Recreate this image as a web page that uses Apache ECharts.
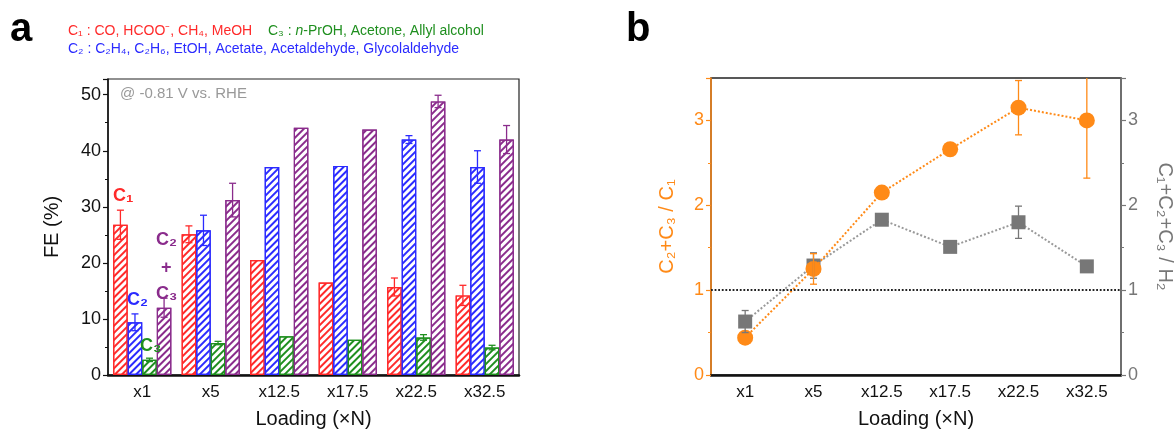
<!DOCTYPE html>
<html>
<head>
<meta charset="utf-8">
<script src="https://cdn.jsdelivr.net/npm/echarts@6/dist/echarts.min.js"></script>
<style>
  html, body { margin: 0; padding: 0; background: #fff; }
  #chart { width: 1176px; height: 434px; }
</style>
</head>
<body>
<div id="chart"></div>
<script>
// 数据
var categories = ['x1', 'x5', 'x12.5', 'x17.5', 'x22.5', 'x32.5'];

// a: FE (%)
var c1 = [26.8, 25.1, 20.5, 16.5, 15.7, 14.2];
var c1Err = [2.6, 1.5, 0, 0, 1.6, 1.8];
var c2 = [9.4, 25.8, 37.1, 37.3, 42.0, 37.1];
var c2Err = [1.5, 2.7, 0, 0, 0.7, 2.9];
var c3 = [2.7, 5.7, 6.9, 6.3, 6.7, 4.9];
var c3Err = [0.3, 0.3, 0, 0, 0.5, 0.4];
var c23 = [12.0, 31.2, 44.1, 43.8, 48.8, 42.0];
var c23Err = [1.7, 3.0, 0, 0, 1.1, 2.5];

// b: ratios
var ratio = [0.44, 1.25, 2.15, 2.66, 3.15, 3.0];
var ratioErr = [0, 0.18, 0, 0, 0.32, 0.68];
var toH2 = [0.63, 1.29, 1.83, 1.51, 1.80, 1.28];
var toH2Err = [0.13, 0.15, 0, 0, 0.19, 0];

var red = '#ff2a2a', blue = '#2b2bff', green = '#1f8f1f', purple = '#8a2c8c';
var orange = '#ff8a17', gray = '#777777';
var font = "'Liberation Sans', Arial, sans-serif";

function errData(vals, errs) {
    var out = [];
    for (var i = 0; i < vals.length; i++) {
        if (errs[i] > 0) out.push([i, vals[i], errs[i]]);
    }
    return out;
}

// 误差棒
function errRender(color, slot, count) {
    return function (params, api) {
        var cat = api.value(0), v = api.value(1), e = api.value(2);
        var hi = api.coord([cat, v + e]);
        var lo = api.coord([cat, v - e]);
        var off = 0;
        if (count) {
            var bw = api.size([1, 0])[0] * 0.85 / count;
            off = (slot - (count - 1) / 2) * bw;
        }
        var x = hi[0] + off, cap = 3.5;
        var st = { stroke: color, lineWidth: 1.3 };
        return {
            type: 'group',
            children: [
                { type: 'line', shape: { x1: x, y1: hi[1], x2: x, y2: lo[1] }, style: st },
                { type: 'line', shape: { x1: x - cap, y1: hi[1], x2: x + cap, y2: hi[1] }, style: st },
                { type: 'line', shape: { x1: x - cap, y1: lo[1], x2: x + cap, y2: lo[1] }, style: st }
            ]
        };
    };
}

function hatchBar(name, data, color) {
    return {
        name: name,
        type: 'bar',
        xAxisIndex: 0,
        yAxisIndex: 0,
        data: data,
        barGap: '0%',
        barCategoryGap: '15%',
        itemStyle: {
            color: '#fff',
            borderColor: color,
            borderWidth: 1.2,
            decal: {
                symbol: 'rect',
                symbolSize: 1,
                color: color,
                dashArrayX: [1, 0],
                dashArrayY: [2, 3],
                rotation: -Math.PI / 4
            }
        }
    };
}

function errSeries(vals, errs, color, slot, count, xi, yi) {
    return {
        type: 'custom',
        xAxisIndex: xi,
        yAxisIndex: yi,
        clip: true,
        z: 5,
        data: errData(vals, errs),
        renderItem: errRender(color, slot, count)
    };
}

var chart = echarts.init(document.getElementById('chart'));

var xAxisBase = function (gi) {
    return {
        gridIndex: gi,
        type: 'category',
        data: categories,
        axisLine: { lineStyle: { color: '#111', width: 2.5 } },
        axisTick: { show: false },
        axisLabel: { color: '#111', fontSize: 17, fontFamily: font, margin: 9 },
        name: 'Loading (×N)',
        nameLocation: 'middle',
        nameGap: 34,
        nameTextStyle: { color: '#111', fontSize: 20, fontFamily: font }
    };
};

var yAxisBase = function (gi, pos, max, color, name, rot) {
    return {
        gridIndex: gi,
        type: 'value',
        position: pos,
        min: 0,
        max: max,
        interval: max > 10 ? 10 : 1,
        splitLine: { show: false },
        axisLine: { show: true, lineStyle: { color: color, width: 1.5 } },
        axisTick: { show: true, length: 5, lineStyle: { color: color, width: 1.2 } },
        minorTick: { show: true, splitNumber: 2, length: 3, lineStyle: { color: color, width: 1 } },
        axisLabel: { color: color, fontSize: 18, fontFamily: font, margin: 7, showMaxLabel: false },
        name: name,
        nameLocation: 'middle',
        nameRotate: rot,
        nameGap: max > 10 ? 46 : 34,
        nameTextStyle: { color: color, fontSize: 20, fontFamily: font }
    };
};

var option = {
    animation: false,
    backgroundColor: '#fff',
    grid: [
        { left: 108, right: 657, top: 79, bottom: 53, show: true, borderColor: '#222', borderWidth: 1.2 },
        { left: 711, right: 55, top: 78, bottom: 53, show: true, borderColor: '#222', borderWidth: 1.5 }
    ],
    xAxis: [xAxisBase(0), xAxisBase(1)],
    yAxis: [
        yAxisBase(0, 'left', 52.8, '#111', 'FE (%)', 90),
        yAxisBase(1, 'left', 3.5, orange, 'C₂+C₃ / C₁', 90),
        yAxisBase(1, 'right', 3.5, gray, 'C₁+C₂+C₃ / H₂', -90)
    ],
    graphic: [
        { type: 'text', left: 10, top: 10, style: { text: 'a', font: 'bold 40px ' + font, fill: '#000' } },
        { type: 'text', left: 626, top: 10, style: { text: 'b', font: 'bold 40px ' + font, fill: '#000' } },
        { type: 'text', left: 68, top: 24, style: { text: 'C₁ : CO, HCOO⁻, CH₄, MeOH', font: '14px ' + font, fill: red } },
        {
            type: 'text', left: 268, top: 24,
            style: {
                text: '{g|C₃ : }{i|n}{g|-PrOH, Acetone, Allyl alcohol}',
                rich: {
                    g: { fontSize: 14, fontFamily: font, fill: green, color: green },
                    i: { fontSize: 14, fontFamily: font, fontStyle: 'italic', fill: green, color: green }
                }
            }
        },
        { type: 'text', left: 68, top: 42, style: { text: 'C₂ : C₂H₄, C₂H₆, EtOH, Acetate, Acetaldehyde, Glycolaldehyde', font: '14px ' + font, fill: blue } },
        { type: 'text', left: 120, top: 86, style: { text: '@ -0.81 V vs. RHE', font: '15px ' + font, fill: '#999' } },
        // 柱子标注
        { type: 'text', z: 100, left: 113, top: 187, style: { text: 'C₁', font: 'bold 18px ' + font, fill: red } },
        { type: 'text', z: 100, left: 127, top: 291, style: { text: 'C₂', font: 'bold 18px ' + font, fill: blue } },
        { type: 'text', z: 100, left: 140, top: 337, style: { text: 'C₃', font: 'bold 18px ' + font, fill: green } },
        { type: 'text', z: 100, left: 156, top: 231, style: { text: 'C₂', font: 'bold 18px ' + font, fill: purple } },
        { type: 'text', z: 100, left: 161, top: 259, style: { text: '+', font: 'bold 18px ' + font, fill: purple } },
        { type: 'text', z: 100, left: 156, top: 285, style: { text: 'C₃', font: 'bold 18px ' + font, fill: purple } }
    ],
    series: [
        hatchBar('C1', c1, red),
        hatchBar('C2', c2, blue),
        hatchBar('C3', c3, green),
        hatchBar('C2+C3', c23, purple),
        errSeries(c1, c1Err, red, 0, 4, 0, 0),
        errSeries(c2, c2Err, blue, 1, 4, 0, 0),
        errSeries(c3, c3Err, green, 2, 4, 0, 0),
        errSeries(c23, c23Err, purple, 3, 4, 0, 0),
        {
            name: 'C2+C3 / H2',
            type: 'line',
            xAxisIndex: 1,
            yAxisIndex: 2,
            data: toH2,
            symbol: 'rect',
            symbolSize: 14,
            itemStyle: { color: gray },
            lineStyle: { color: '#999', type: 'dotted', width: 2 },
            z: 3
        },
        {
            name: 'C2+C3 / C1',
            type: 'line',
            xAxisIndex: 1,
            yAxisIndex: 1,
            data: ratio,
            symbol: 'circle',
            symbolSize: 16,
            itemStyle: { color: orange },
            lineStyle: { color: orange, type: 'dotted', width: 2 },
            z: 4,
            markLine: {
                silent: true,
                symbol: ['none', 'none'],
                label: { show: false },
                lineStyle: { color: '#222', type: 'dotted', width: 1.8 },
                data: [{ yAxis: 1 }]
            }
        },
        errSeries(toH2, toH2Err, gray, 0, 0, 1, 2),
        errSeries(ratio, ratioErr, orange, 0, 0, 1, 1)
    ]
};
chart.setOption(option);
</script>
</body>
</html>
